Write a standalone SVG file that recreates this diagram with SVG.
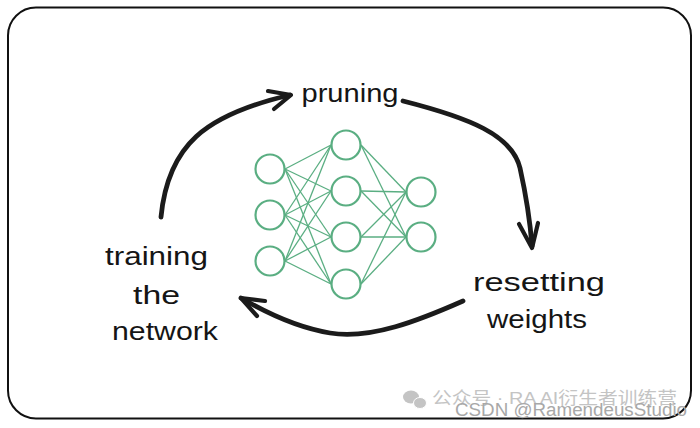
<svg xmlns="http://www.w3.org/2000/svg" width="700" height="428" viewBox="0 0 700 428">
<style>
.frame{fill:#fff;stroke:#111;stroke-width:2}
.arrow{fill:none;stroke:#1b1b1b;stroke-width:4.8;stroke-linecap:round;stroke-linejoin:round}
.head{fill:none;stroke:#1b1b1b;stroke-width:4.2;stroke-linecap:round;stroke-linejoin:round}
.lbl{font-family:"Liberation Sans","DejaVu Sans",sans-serif;font-size:25px;fill:#151515;text-anchor:middle}
.neuron{fill:#fff;stroke:#5aae82;stroke-width:2.2}
.syn{stroke:#5aae82;stroke-width:1.3}
.wm{font-family:"Liberation Sans","Noto Sans CJK SC",sans-serif;fill:#c4c4c4}
</style>
<rect class="frame" x="8" y="7.5" width="683" height="411" rx="28"/>

<g id="connectors">
  <path class="arrow" d="M161,217 C168,145 205,115 290,95"/>
  <path class="head" d="M268,91 L291,95 L274,109"/>
  <path class="arrow" d="M403,101 C470,118 512,135 520,168 C526,195 530,220 532,246"/>
  <path class="head" d="M519,224 L532,248 L538,223"/>
  <path class="arrow" d="M463,301 C420,320 370,340 330,333 C300,328 270,315 241,298"/>
  <path class="head" d="M265,301 L241,298 L257,316"/>
</g>

<g id="network">
  <g id="synapses">
    <line class="syn" x1="285" y1="169" x2="331" y2="145"/>
    <line class="syn" x1="285" y1="169" x2="331" y2="191"/>
    <line class="syn" x1="285" y1="169" x2="331" y2="237"/>
    <line class="syn" x1="285" y1="169" x2="331" y2="284"/>
    <line class="syn" x1="285" y1="215" x2="331" y2="145"/>
    <line class="syn" x1="285" y1="215" x2="331" y2="191"/>
    <line class="syn" x1="285" y1="215" x2="331" y2="237"/>
    <line class="syn" x1="285" y1="215" x2="331" y2="284"/>
    <line class="syn" x1="285" y1="261" x2="331" y2="145"/>
    <line class="syn" x1="285" y1="261" x2="331" y2="191"/>
    <line class="syn" x1="285" y1="261" x2="331" y2="237"/>
    <line class="syn" x1="285" y1="261" x2="331" y2="284"/>
    <line class="syn" x1="361" y1="145" x2="406" y2="192"/>
    <line class="syn" x1="361" y1="145" x2="406" y2="237"/>
    <line class="syn" x1="361" y1="191" x2="406" y2="192"/>
    <line class="syn" x1="361" y1="191" x2="406" y2="237"/>
    <line class="syn" x1="361" y1="237" x2="406" y2="192"/>
    <line class="syn" x1="361" y1="237" x2="406" y2="237"/>
    <line class="syn" x1="361" y1="284" x2="406" y2="192"/>
    <line class="syn" x1="361" y1="284" x2="406" y2="237"/>
  </g>
  <g id="input-layer">
    <circle class="neuron" cx="270" cy="169" r="14.5"/>
    <circle class="neuron" cx="270" cy="215" r="14.5"/>
    <circle class="neuron" cx="270" cy="261" r="14.5"/>
  </g>
  <g id="hidden-layer">
    <circle class="neuron" cx="346" cy="145" r="14.5"/>
    <circle class="neuron" cx="346" cy="191" r="14.5"/>
    <circle class="neuron" cx="346" cy="237" r="14.5"/>
    <circle class="neuron" cx="346" cy="284" r="14.5"/>
  </g>
  <g id="output-layer">
    <circle class="neuron" cx="421" cy="192" r="14.5"/>
    <circle class="neuron" cx="421" cy="237" r="14.5"/>
  </g>
</g>

<g id="pruning">
  <text class="lbl" x="350" y="102" textLength="97" lengthAdjust="spacingAndGlyphs">pruning</text>
</g>
<g id="resetting-weights">
  <text class="lbl" x="539" y="291" textLength="132" lengthAdjust="spacingAndGlyphs">resetting</text>
  <text class="lbl" x="537" y="328" textLength="100" lengthAdjust="spacingAndGlyphs">weights</text>
</g>
<g id="training-the-network">
  <text class="lbl" x="156.5" y="265" textLength="103" lengthAdjust="spacingAndGlyphs">training</text>
  <text class="lbl" x="156.5" y="304" textLength="47" lengthAdjust="spacingAndGlyphs">the</text>
  <text class="lbl" x="165" y="340" textLength="106" lengthAdjust="spacingAndGlyphs">network</text>
</g>

<g id="watermark">
  <ellipse cx="411" cy="397" rx="8" ry="6.5" fill="#c4c4c4"/>
  <ellipse cx="420" cy="403" rx="6.5" ry="5.5" fill="#c4c4c4" stroke="#fff" stroke-width="1"/>
  <text class="wm" x="432" y="404" font-size="17" textLength="245" lengthAdjust="spacingAndGlyphs">公众号 · RA AI衍生者训练营</text>
  <text class="wm" x="455" y="416" font-size="18" style="fill:#a8a8a8" textLength="232" lengthAdjust="spacingAndGlyphs">CSDN @RamendeusStudio</text>
</g>
</svg>
